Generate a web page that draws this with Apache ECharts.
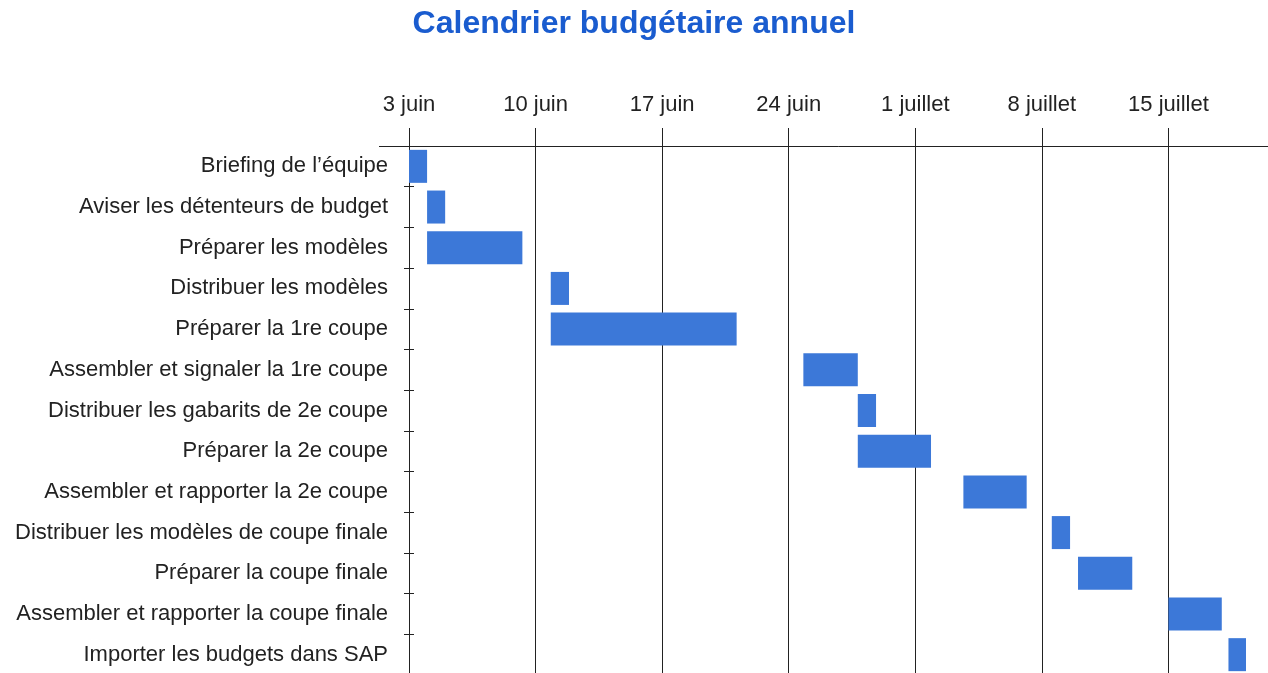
<!DOCTYPE html>
<html>
<head>
<meta charset="utf-8">
<title>Calendrier budgétaire annuel</title>
<script src="https://cdn.jsdelivr.net/npm/echarts@6/dist/echarts.min.js"></script>
<style>
    html, body { margin: 0; padding: 0; background: #fff; }
    #main { width: 1268px; height: 673px; }
</style>
</head>
<body>
<div id="main"></div>
<script>
// taches du calendrier (de haut en bas)
const tasks = [
    "Briefing de l’équipe",
    "Aviser les détenteurs de budget",
    "Préparer les modèles",
    "Distribuer les modèles",
    "Préparer la 1re coupe",
    "Assembler et signaler la 1re coupe",
    "Distribuer les gabarits de 2e coupe",
    "Préparer la 2e coupe",
    "Assembler et rapporter la 2e coupe",
    "Distribuer les modèles de coupe finale",
    "Préparer la coupe finale",
    "Assembler et rapporter la coupe finale",
    "Importer les budgets dans SAP"
];
// debut en jours depuis le 3 juin
const startDays = [0, 1, 1, 7.84, 7.84, 21.81, 24.82, 24.82, 30.66, 35.55, 37, 42, 45.32];
// duree en jours
const durationDays = [1, 1, 5.27, 1.01, 10.28, 3.01, 1.01, 4.05, 3.5, 1.01, 3, 2.95, 0.97];
// libelles de l'axe des dates (un par semaine)
const weekLabels = ["3 juin", "10 juin", "17 juin", "24 juin", "1 juillet", "8 juillet", "15 juillet"];

const fontFamily = "'Liberation Sans', Arial, sans-serif";

let myChart = echarts.init(document.getElementById('main'));
let option = {
    animation: false,
    backgroundColor: '#fff',
    title: {
        text: 'Calendrier budgétaire annuel',
        left: 'center',
        top: 3,
        textStyle: {
            color: '#1a5ccf',
            fontSize: 32,
            fontWeight: 'bold',
            fontFamily: fontFamily
        }
    },
    grid: {
        left: 409,
        top: 146,
        right: -27,
        bottom: -2,
        outerBoundsMode: 'none',
        containLabel: false
    },
    xAxis: {
        type: 'value',
        position: 'top',
        min: 0,
        max: 49,
        interval: 7,
        axisLine: { show: true, lineStyle: { color: '#222', width: 1 } },
        axisTick: { show: true, length: 18, lineStyle: { color: '#222', width: 1 } },
        splitLine: { show: true, lineStyle: { color: '#222', width: 1 } },
        axisLabel: {
            margin: 30,
            fontSize: 22,
            color: '#222',
            fontFamily: fontFamily,
            formatter: function (v) {
                return weekLabels[Math.round(v / 7)] || '';
            }
        }
    },
    yAxis: [
        {
            type: 'category',
            inverse: true,
            data: tasks,
            axisLine: { show: true, lineStyle: { color: '#222', width: 1 } },
            axisTick: { show: true, length: 5, lineStyle: { color: '#222' } },
            axisLabel: {
                margin: 21,
                fontSize: 22,
                color: '#222',
                fontFamily: fontFamily
            }
        },
        {
            // petits traits vers l'interieur
            type: 'category',
            inverse: true,
            position: 'left',
            data: tasks,
            axisLine: { show: false },
            axisTick: { show: true, inside: true, length: 5, lineStyle: { color: '#222' } },
            axisLabel: { show: false }
        }
    ],
    series: [
        {
            name: 'debut',
            type: 'bar',
            stack: 'gantt',
            barWidth: 33,
            itemStyle: { color: 'transparent' },
            silent: true,
            data: startDays
        },
        {
            name: 'duree',
            type: 'bar',
            stack: 'gantt',
            barWidth: 33,
            itemStyle: { color: '#3c78d8' },
            data: durationDays
        }
    ],
    graphic: [
        {
            // prolongement de la ligne d'axe vers la gauche
            type: 'line',
            shape: { x1: 379, y1: 146.5, x2: 409, y2: 146.5 },
            style: { stroke: '#222', lineWidth: 1 }
        }
    ]
};
myChart.setOption(option);
</script>
</body>
</html>
